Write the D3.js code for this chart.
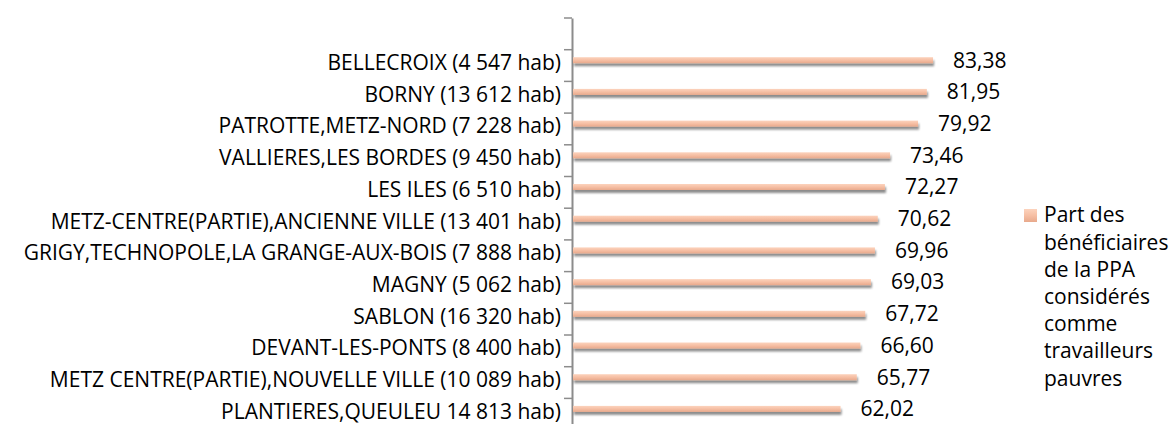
<!DOCTYPE html>
<html>
<head>
<meta charset="utf-8">
<script src="https://cdn.jsdelivr.net/npm/d3@7"></script>
<style>
  body { margin: 0; background: #fff; }
  svg text { font-family: "Open Sans", "Liberation Sans", sans-serif; fill: #000; }
</style>
</head>
<body>
<svg id="chart"></svg>
<script>
// quartiers de Metz, de haut en bas
const quartiers = [
  "BELLECROIX (4 547 hab)",
  "BORNY (13 612 hab)",
  "PATROTTE,METZ-NORD (7 228 hab)",
  "VALLIERES,LES BORDES (9 450 hab)",
  "LES ILES (6 510 hab)",
  "METZ-CENTRE(PARTIE),ANCIENNE VILLE (13 401 hab)",
  "GRIGY,TECHNOPOLE,LA GRANGE-AUX-BOIS (7 888 hab)",
  "MAGNY (5 062 hab)",
  "SABLON (16 320 hab)",
  "DEVANT-LES-PONTS (8 400 hab)",
  "METZ CENTRE(PARTIE),NOUVELLE VILLE (10 089 hab)",
  "PLANTIERES,QUEULEU 14 813 hab)"
];
const parts = [83.38, 81.95, 79.92, 73.46, 72.27, 70.62, 69.96, 69.03, 67.72, 66.60, 65.77, 62.02];
const legende = ["Part des", "bénéficiaires", "de la PPA", "considérés", "comme", "travailleurs", "pauvres"];

const width = 1170, height = 424;
const fontSize = 21;

const svg = d3.select("#chart")
    .attr("width", width)
    .attr("height", height);

const defs = svg.append("defs");
const grad = defs.append("linearGradient")
    .attr("id", "barGrad")
    .attr("x1", 0).attr("y1", 0).attr("x2", 0).attr("y2", 1);
grad.append("stop").attr("offset", "0%").attr("stop-color", "#fcd3bd");
grad.append("stop").attr("offset", "50%").attr("stop-color", "#f6bfa4");
grad.append("stop").attr("offset", "100%").attr("stop-color", "#e8a98c");

const shadow = defs.append("filter")
    .attr("id", "ombre")
    .attr("x", "-5%").attr("y", "-50%").attr("width", "110%").attr("height", "250%");
shadow.append("feGaussianBlur").attr("in", "SourceAlpha").attr("stdDeviation", 1.3);
shadow.append("feOffset").attr("dx", 1).attr("dy", 2.5).attr("result", "blur");
shadow.append("feComponentTransfer").append("feFuncA").attr("type", "linear").attr("slope", 0.45);
const merge = shadow.append("feMerge");
merge.append("feMergeNode");
merge.append("feMergeNode").attr("in", "SourceGraphic");

// one empty slot on top, like the original
const y = d3.scaleBand()
    .domain(["_vide"].concat(quartiers))
    .range([18, 18 + 13 * 31.7]);

const x = d3.scaleLinear()
    .domain([0, 100])
    .range([572, 1005]);

// axe des catégories
const axis = svg.append("g")
    .attr("transform", `translate(${x(0)},0)`)
    .call(d3.axisLeft(y).tickSize(0).tickFormat(""));
axis.select(".domain").attr("stroke", "#8c8c8c").attr("stroke-width", 2);

svg.append("g").selectAll("line")
    .data(y.domain())
    .join("line")
      .attr("x1", x(0) - 8).attr("x2", x(0))
      .attr("y1", d => y(d)).attr("y2", d => y(d))
      .attr("stroke", "#8c8c8c").attr("stroke-width", 1.5);

// barres
svg.append("g").selectAll("rect")
    .data(parts)
    .join("rect")
      .attr("x", x(0) + 1)
      .attr("y", (d, i) => y(quartiers[i]) + 7.5)
      .attr("width", d => x(d) - x(0) - 1)
      .attr("height", 6)
      .attr("fill", "url(#barGrad)")
      .attr("filter", "url(#ombre)");

// valeurs
svg.append("g").selectAll("text")
    .data(parts)
    .join("text")
      .attr("x", d => x(d) + 20)
      .attr("y", (d, i) => y(quartiers[i]) + 10.5)
      .attr("dy", "0.35em")
      .style("font-size", fontSize + "px")
      .text(d => d.toFixed(2).replace(".", ","));

// libellés des quartiers
svg.append("g").selectAll("text")
    .data(quartiers)
    .join("text")
      .attr("x", 561)
      .attr("y", d => y(d) + 13)
      .attr("dy", "0.35em")
      .attr("text-anchor", "end")
      .style("font-size", fontSize + "px")
      .text(d => d);

// légende
svg.append("rect")
    .attr("x", 1024).attr("y", 209)
    .attr("width", 13).attr("height", 13)
    .attr("fill", "url(#barGrad)");

svg.append("g").selectAll("text")
    .data(legende)
    .join("text")
      .attr("x", 1044)
      .attr("y", (d, i) => 215 + i * 27.2)
      .attr("dy", "0.35em")
      .style("font-size", fontSize + "px")
      .text(d => d);
</script>
</body>
</html>
